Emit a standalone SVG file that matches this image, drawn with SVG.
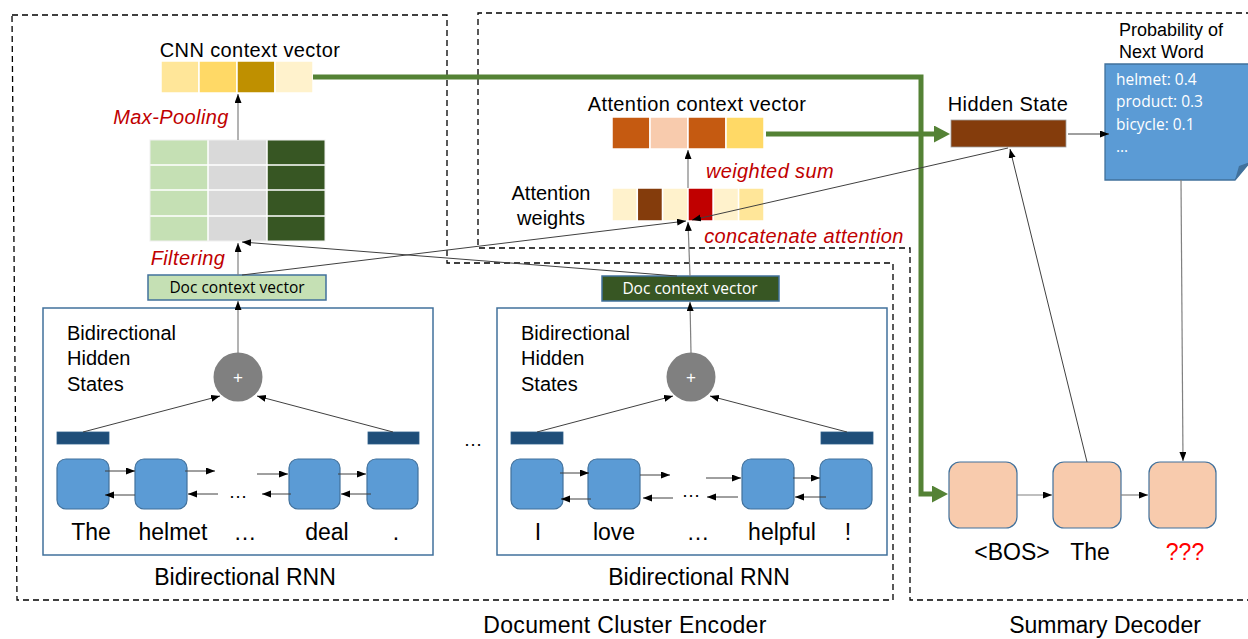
<svg xmlns="http://www.w3.org/2000/svg" width="1248" height="639" viewBox="0 0 1248 639">
  <style>
    .lbl { font-family: "Liberation Sans", Arial, sans-serif; fill: #000; }
    .red { font-family: "Liberation Sans", Arial, sans-serif; font-style: italic; fill: #c00000; font-size: 20px; letter-spacing: 0.4px; }
    .soft { font-family: "Open Sans", "Liberation Sans", sans-serif; }
    .region { fill: none; stroke: #000; stroke-width: 1.3; stroke-dasharray: 6 4; }
    .frame { fill: none; stroke: #41719c; stroke-width: 1.5; }
    .cell { fill: #5b9bd5; stroke: #41719c; stroke-width: 1.2; }
    .dcell { fill: #f8cbad; stroke: #41719c; stroke-width: 1.2; }
    .bar { fill: #1f4e79; stroke: #2e5f8a; stroke-width: 0.8; }
    .vec { stroke: #fff; stroke-width: 1.5; }
    .thin { fill: none; stroke: #404040; stroke-width: 1; marker-end: url(#tip); }
    .grey { fill: none; stroke: #808080; stroke-width: 1.2; marker-end: url(#tip); }
    .green { fill: none; stroke: #548235; stroke-width: 5; }
  </style>
  <defs>
    <marker id="tip" markerUnits="userSpaceOnUse" markerWidth="10" markerHeight="8" refX="9" refY="3.5" orient="auto">
      <path d="M0,0 L9,3.5 L0,7 z" fill="#000"/>
    </marker>
    <marker id="bigtip" markerUnits="userSpaceOnUse" markerWidth="17" markerHeight="18" refX="10" refY="8.5" orient="auto">
      <path d="M0,0 L16,8.5 L0,17 z" fill="#548235"/>
    </marker>
  </defs>

  <!-- dashed regions -->
  <g id="regions">
    <path class="region" d="M12,15 H447 V263 H893 V600 H17 Z"/>
    <path class="region" d="M1252,13 H478 V248 H910 V600 H1252"/>
    <text class="lbl" x="625" y="633" font-size="23" letter-spacing="0.3" text-anchor="middle">Document Cluster Encoder</text>
    <text class="lbl" x="1105" y="633" font-size="23" text-anchor="middle">Summary Decoder</text>
  </g>

  <!-- CNN context vector -->
  <g id="cnn-vector">
    <rect class="vec" x="161" y="61" width="38" height="32" fill="#ffe699"/>
    <rect class="vec" x="199" y="61" width="38" height="32" fill="#ffd966"/>
    <rect class="vec" x="237" y="61" width="38" height="32" fill="#bf9000"/>
    <rect class="vec" x="275" y="61" width="38" height="32" fill="#fff2cc"/>
    <text class="lbl" x="250" y="57" font-size="20" letter-spacing="0.4" text-anchor="middle">CNN context vector</text>
  </g>

  <!-- convolution feature map -->
  <g id="feature-map">
    <rect x="150" y="140" width="58" height="101" fill="#c5e0b4"/>
    <rect x="208" y="140" width="59" height="101" fill="#d9d9d9"/>
    <rect x="267" y="140" width="58" height="101" fill="#375623"/>
    <path d="M208,140 V241 M267,140 V241 M150,165 H325 M150,190 H325 M150,216 H325" stroke="#fff" stroke-width="1.5"/>
    <rect x="150" y="140" width="175" height="101" fill="none" stroke="#f0f0f0" stroke-width="1"/>
    <text class="red" x="171" y="124" text-anchor="middle">Max-Pooling</text>
    <text class="red" x="188" y="265" text-anchor="middle">Filtering</text>
  </g>

  <!-- doc context vectors -->
  <g id="doc-vector-1">
    <rect x="148" y="275" width="178" height="25" fill="#c5e0b4" stroke="#41719c" stroke-width="1.5"/>
    <text class="soft" x="237" y="293" font-size="15.5" text-anchor="middle" fill="#000">Doc context vector</text>
  </g>
  <g id="doc-vector-2">
    <rect x="602" y="276" width="177" height="25" fill="#375623" stroke="#41719c" stroke-width="1.5"/>
    <text class="soft" x="690" y="294" font-size="15.5" text-anchor="middle" fill="#fff">Doc context vector</text>
  </g>

  <!-- attention -->
  <g id="attention-context">
    <rect class="vec" x="612" y="117" width="38" height="32" fill="#c55a11"/>
    <rect class="vec" x="650" y="117" width="38" height="32" fill="#f8cbad"/>
    <rect class="vec" x="688" y="117" width="38" height="32" fill="#c55a11"/>
    <rect class="vec" x="726" y="117" width="38" height="32" fill="#ffd966"/>
    <text class="lbl" x="697" y="111" font-size="20" letter-spacing="0.4" text-anchor="middle">Attention context vector</text>
    <text class="red" x="770" y="178" text-anchor="middle">weighted sum</text>
  </g>
  <g id="attention-weights">
    <rect class="vec" x="612" y="188" width="25.3" height="33" fill="#fff2cc"/>
    <rect class="vec" x="637.3" y="188" width="25.3" height="33" fill="#843c0c"/>
    <rect class="vec" x="662.6" y="188" width="25.4" height="33" fill="#fff2cc"/>
    <rect class="vec" x="688" y="188" width="25.3" height="33" fill="#c00000"/>
    <rect class="vec" x="713.3" y="188" width="25.3" height="33" fill="#fff2cc"/>
    <rect class="vec" x="738.6" y="188" width="25.4" height="33" fill="#ffe699"/>
    <text class="lbl" font-size="20" text-anchor="middle"><tspan x="551" y="200">Attention</tspan><tspan x="551" y="225">weights</tspan></text>
    <text class="red" x="804" y="243" text-anchor="middle">concatenate attention</text>
  </g>

  <!-- left bidirectional RNN -->
  <g id="rnn-1">
    <rect class="frame" x="43" y="308" width="390" height="247"/>
    <text class="lbl" font-size="20"><tspan x="67" y="340">Bidirectional</tspan><tspan x="67" y="365">Hidden</tspan><tspan x="67" y="391">States</tspan></text>
    <circle cx="238" cy="377" r="24.5" fill="#808080"/>
    <text class="lbl" x="238" y="383" font-size="17" text-anchor="middle" style="fill:#fff">+</text>
    <rect class="bar" x="57" y="432" width="52" height="12"/>
    <rect class="bar" x="368" y="432" width="51" height="12"/>
    <rect class="cell" x="57" y="459" width="52" height="50" rx="9"/>
    <rect class="cell" x="135" y="459" width="52" height="50" rx="9"/>
    <rect class="cell" x="289" y="459" width="51" height="50" rx="9"/>
    <rect class="cell" x="367" y="459" width="51" height="50" rx="9"/>
    <text class="lbl" x="238" y="498" font-size="19" text-anchor="middle">…</text>
    <g class="lbl" font-size="23" text-anchor="middle">
      <text x="91" y="540">The</text>
      <text x="173" y="540">helmet</text>
      <text x="245" y="540">…</text>
      <text x="327" y="540">deal</text>
      <text x="396" y="540">.</text>
    </g>
    <text class="lbl" x="245" y="585" font-size="23" text-anchor="middle">Bidirectional RNN</text>
  </g>

  <text class="lbl" x="473" y="446" font-size="19" text-anchor="middle">…</text>

  <!-- right bidirectional RNN -->
  <g id="rnn-2">
    <rect class="frame" x="497" y="308" width="390" height="247"/>
    <text class="lbl" font-size="20"><tspan x="521" y="340">Bidirectional</tspan><tspan x="521" y="365">Hidden</tspan><tspan x="521" y="391">States</tspan></text>
    <circle cx="691" cy="377" r="24.5" fill="#808080"/>
    <text class="lbl" x="691" y="383" font-size="17" text-anchor="middle" style="fill:#fff">+</text>
    <rect class="bar" x="511" y="432" width="52" height="12"/>
    <rect class="bar" x="821" y="432" width="52" height="12"/>
    <rect class="cell" x="511" y="459" width="52" height="50" rx="9"/>
    <rect class="cell" x="588" y="459" width="52" height="50" rx="9"/>
    <rect class="cell" x="742" y="459" width="52" height="50" rx="9"/>
    <rect class="cell" x="820" y="459" width="52" height="50" rx="9"/>
    <text class="lbl" x="691" y="497" font-size="19" text-anchor="middle">…</text>
    <g class="lbl" font-size="23" text-anchor="middle">
      <text x="538" y="540">I</text>
      <text x="614" y="540">love</text>
      <text x="698" y="540">…</text>
      <text x="782" y="540">helpful</text>
      <text x="848" y="540">!</text>
    </g>
    <text class="lbl" x="699" y="585" font-size="23" text-anchor="middle">Bidirectional RNN</text>
  </g>

  <!-- decoder hidden state -->
  <g id="hidden-state">
    <rect x="951" y="120" width="115" height="27" fill="#843c0c" stroke="#a0a0a0" stroke-width="0.8"/>
    <text class="lbl" x="1008" y="111" font-size="20" letter-spacing="0.4" text-anchor="middle">Hidden State</text>
  </g>

  <!-- next word distribution -->
  <g id="next-word">
    <text class="lbl" font-size="18"><tspan x="1119" y="36">Probability of</tspan><tspan x="1119" y="58">Next Word</tspan></text>
    <path d="M1105,64 H1250 V162 L1235,180 H1105 Z" fill="#5b9bd5" stroke="#41719c" stroke-width="1.3"/>
    <path d="M1235,180 L1239,166 L1250,162 Z" fill="#41719c"/>
    <g class="soft" font-size="15.5" fill="#fff">
      <text x="1116" y="85">helmet: 0.4</text>
      <text x="1116" y="107">product: 0.3</text>
      <text x="1116" y="130">bicycle: 0.1</text>
      <text x="1116" y="152">…</text>
    </g>
  </g>

  <!-- decoder steps -->
  <g id="step-bos">
    <rect class="dcell" x="949" y="462" width="68" height="66" rx="11"/>
    <text class="lbl" x="1012" y="560" font-size="23" text-anchor="middle">&lt;BOS&gt;</text>
  </g>
  <g id="step-the">
    <rect class="dcell" x="1053" y="462" width="68" height="66" rx="11"/>
    <text class="lbl" x="1090" y="560" font-size="23" text-anchor="middle">The</text>
  </g>
  <g id="step-next">
    <rect class="dcell" x="1149" y="462" width="67" height="66" rx="11"/>
    <text x="1185" y="560" font-size="23" text-anchor="middle" font-family="Liberation Sans, Arial, sans-serif" fill="#ff0000">???</text>
  </g>

  <!-- connectors -->
  <g id="connectors">
    <!-- green context paths -->
    <path class="green" d="M313,77 H921 V494 H942" marker-end="url(#bigtip)"/>
    <path class="green" d="M766,134 H944" marker-end="url(#bigtip)"/>
    <!-- encoder vertical flow -->
    <line class="grey" x1="238" y1="353" x2="238" y2="301"/>
    <line class="grey" x1="238" y1="275" x2="238" y2="243"/>
    <line class="grey" x1="238" y1="140" x2="238" y2="94"/>
    <line class="grey" x1="691" y1="353" x2="690" y2="302"/>
    <line class="grey" x1="690" y1="276" x2="688" y2="222"/>
    <line class="grey" x1="688" y1="188" x2="688" y2="150"/>
    <!-- crossing attention links -->
    <line class="thin" x1="242" y1="275" x2="686" y2="221"/>
    <line class="thin" x1="677" y1="276" x2="242" y2="242"/>
    <line class="thin" x1="1008" y1="148" x2="692" y2="220"/>
    <line class="thin" x1="1087" y1="462" x2="1010" y2="149"/>
    <line class="thin" x1="1068" y1="134" x2="1109" y2="134"/>
    <line class="grey" x1="1181" y1="180" x2="1183" y2="461"/>
    <!-- bar to sum -->
    <line class="thin" x1="83" y1="432" x2="220" y2="396"/>
    <line class="thin" x1="393" y1="432" x2="257" y2="396"/>
    <line class="thin" x1="537" y1="432" x2="673" y2="396"/>
    <line class="thin" x1="847" y1="432" x2="710" y2="396"/>
    <!-- left RNN chain -->
    <line class="thin" x1="105" y1="471" x2="135" y2="471"/>
    <line class="thin" x1="135" y1="495" x2="105" y2="495"/>
    <line class="thin" x1="185" y1="471" x2="215" y2="471"/>
    <line class="thin" x1="218" y1="494" x2="188" y2="494"/>
    <line class="thin" x1="257" y1="474" x2="288" y2="474"/>
    <line class="thin" x1="291" y1="494" x2="262" y2="494"/>
    <line class="thin" x1="338" y1="474" x2="366" y2="474"/>
    <line class="thin" x1="371" y1="494" x2="341" y2="494"/>
    <!-- right RNN chain -->
    <line class="thin" x1="560" y1="473" x2="589" y2="473"/>
    <line class="thin" x1="591" y1="499" x2="561" y2="499"/>
    <line class="thin" x1="640" y1="475" x2="670" y2="475"/>
    <line class="thin" x1="673" y1="498" x2="643" y2="498"/>
    <line class="thin" x1="706" y1="478" x2="741" y2="478"/>
    <line class="thin" x1="738" y1="497" x2="707" y2="497"/>
    <line class="thin" x1="793" y1="478" x2="820" y2="478"/>
    <line class="thin" x1="826" y1="497" x2="795" y2="497"/>
    <!-- decoder chain -->
    <line class="grey" x1="1017" y1="495" x2="1052" y2="495"/>
    <line class="grey" x1="1121" y1="495" x2="1148" y2="495"/>
  </g>
</svg>
